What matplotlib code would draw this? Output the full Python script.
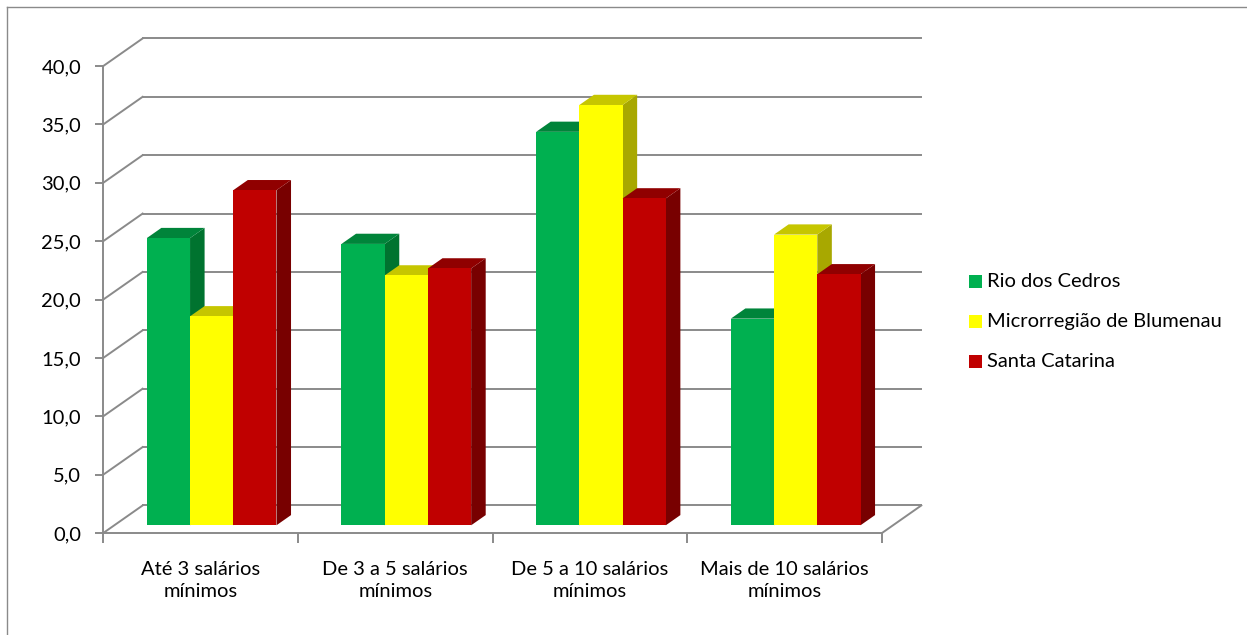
import matplotlib

matplotlib.use("Agg")
import matplotlib.pyplot as plt
from matplotlib.lines import Line2D
from matplotlib.patches import Polygon, Rectangle
from matplotlib.ticker import FixedLocator, FuncFormatter

# dados do gráfico (%)
categories = [
    "Até 3 salários\nmínimos",
    "De 3 a 5 salários\nmínimos",
    "De 5 a 10 salários\nmínimos",
    "Mais de 10 salários\nmínimos",
]
series_names = ["Rio dos Cedros", "Microrregião de Blumenau", "Santa Catarina"]
rio_dos_cedros = [24.6, 24.1, 33.7, 17.7]
microrregiao_blumenau = [17.9, 21.4, 36.0, 24.9]
santa_catarina = [28.7, 22.0, 28.0, 21.5]
y_ticks = [0, 5, 10, 15, 20, 25, 30, 35, 40]

series_values = [rio_dos_cedros, microrregiao_blumenau, santa_catarina]
front_colors = ["#00B050", "#FFFF00", "#C00000"]
top_colors = ["#00843A", "#C6C600", "#900000"]
side_colors = ["#00732F", "#A8A800", "#780000"]

GRID = "#8A8A8A"
FONT = "Lato"
FS = 14.5

plt.rcParams["font.family"] = [FONT, "DejaVu Sans"]

W, H = 1247, 635
fig = plt.figure(figsize=(W / 100, H / 100), dpi=100)
ax = fig.add_axes([103.3 / W, 102 / H, 778.7 / W, 467 / H])
ax.set_xlim(0, len(categories))
ax.set_ylim(0, 40)

# efeito 3D: deslocamento da profundidade (em unidades de dados)
DX, DY = 0.202, 2.36
BAR_Z0, BAR_DZ = 0.28, 0.37
BAR_W = 0.222

# paredes: linhas de grade
for v in y_ticks:
    ax.plot([0, DX], [v, v + DY], color=GRID, lw=1.4, clip_on=False, zorder=1)
    ax.plot([DX, len(categories) + DX], [v + DY, v + DY], color=GRID, lw=1.4,
            clip_on=False, zorder=1)
ax.plot([len(categories), len(categories) + DX], [0, DY], color=GRID, lw=1.4,
        clip_on=False, zorder=1)

# barras
bdx, bdy = BAR_DZ * DX, BAR_DZ * DY
z = 3
for i in range(len(categories)):
    for j, vals in enumerate(series_values):
        v = vals[i]
        left = i + 0.5 - 1.5 * BAR_W + j * BAR_W + BAR_Z0 * DX
        bottom = BAR_Z0 * DY
        top = bottom + v
        right = left + BAR_W
        side = Polygon([(right, bottom), (right + bdx, bottom + bdy),
                        (right + bdx, top + bdy), (right, top)],
                       closed=True, fc=side_colors[j], ec="none",
                       clip_on=False, zorder=z)
        cap = Polygon([(left, top), (right, top), (right + bdx, top + bdy),
                       (left + bdx, top + bdy)],
                      closed=True, fc=top_colors[j], ec="none",
                      clip_on=False, zorder=z)
        ax.add_patch(side)
        ax.add_patch(cap)
        ax.bar(left, v, width=BAR_W, bottom=bottom, align="edge",
               color=front_colors[j], lw=0, clip_on=False, zorder=z + 0.5)
        z += 1

# eixos
for s in ["top", "right"]:
    ax.spines[s].set_visible(False)
for s in ["left", "bottom"]:
    ax.spines[s].set_color(GRID)
    ax.spines[s].set_linewidth(1.4)
ax.set_facecolor("none")

ax.yaxis.set_major_locator(FixedLocator(y_ticks))
ax.yaxis.set_major_formatter(FuncFormatter(lambda v, p: f"{v:.1f}".replace(".", ",")))
ax.tick_params(axis="y", length=6, width=1.4, color=GRID, pad=10,
               labelsize=FS, labelcolor="black")

ax.set_xticks([i + 0.5 for i in range(len(categories))])
ax.set_xticklabels(categories, fontsize=FS, linespacing=1.4)
ax.set_xticks(range(len(categories) + 1), minor=True)
ax.tick_params(axis="x", which="major", length=0, pad=20)
ax.tick_params(axis="x", which="minor", length=7, width=1.4, color=GRID)

# legenda
for k, name in enumerate(series_names):
    yc = 281.7 + 40 * k
    fig.add_artist(Rectangle((969 / W, 1 - (yc + 6.5) / H), 13 / W, 13 / H,
                             transform=fig.transFigure, fc=front_colors[k], ec="none"))
    fig.text(987 / W, 1 - yc / H, name, fontsize=FS, va="center", ha="left")

# borda da área do gráfico
fig.add_artist(Line2D([7 / W, 7 / W], [0, 1 - 7 / H], transform=fig.transFigure,
                      color=GRID, lw=1.0))
fig.add_artist(Line2D([7 / W, 1], [1 - 7 / H, 1 - 7 / H], transform=fig.transFigure,
                      color=GRID, lw=1.0))

fig.savefig("out.png", dpi=100)
